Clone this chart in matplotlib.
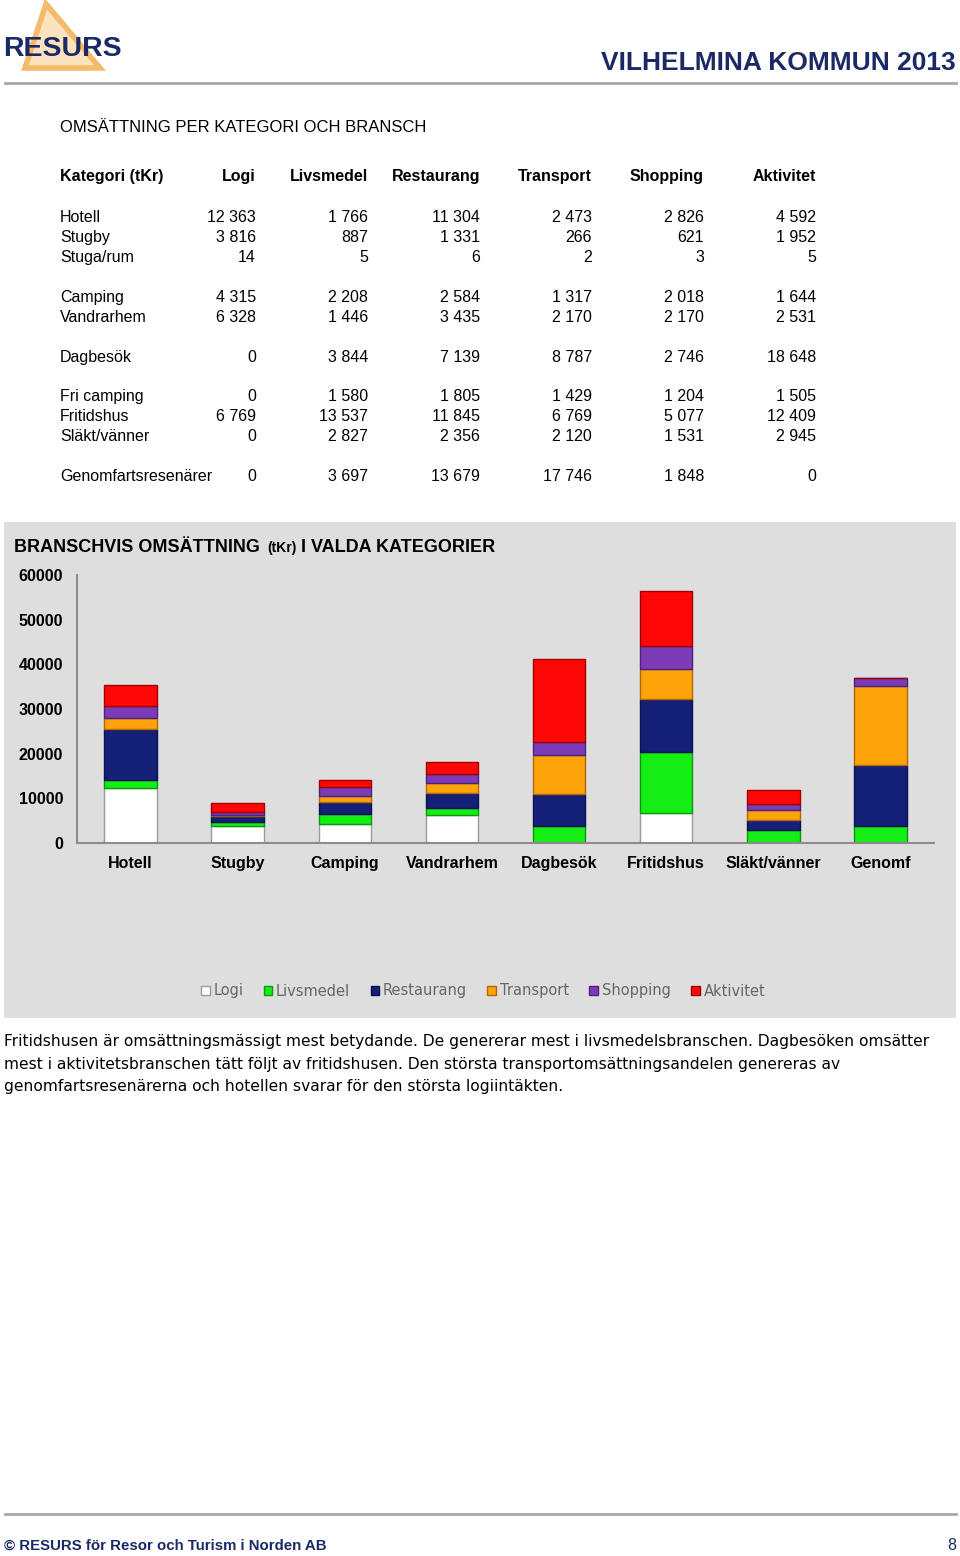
import numpy as np
import matplotlib
matplotlib.use('Agg')
import matplotlib.pyplot as plt
from matplotlib.patches import Rectangle, Polygon
from matplotlib.lines import Line2D

# data
rows = ['Hotell', 'Stugby', 'Stuga/rum', 'Camping', 'Vandrarhem', 'Dagbesök',
        'Fri camping', 'Fritidshus', 'Släkt/vänner', 'Genomfartsresenärer']
branscher = ['Logi', 'Livsmedel', 'Restaurang', 'Transport', 'Shopping', 'Aktivitet']
logi = [12363, 3816, 14, 4315, 6328, 0, 0, 6769, 0, 0]
livsmedel = [1766, 887, 5, 2208, 1446, 3844, 1580, 13537, 2827, 3697]
restaurang = [11304, 1331, 6, 2584, 3435, 7139, 1805, 11845, 2356, 13679]
transport = [2473, 266, 2, 1317, 2170, 8787, 1429, 6769, 2120, 17746]
shopping = [2826, 621, 3, 2018, 2170, 2746, 1204, 5077, 1531, 1848]
aktivitet = [4592, 1952, 5, 1644, 2531, 18648, 1505, 12409, 2945, 0]
columns = [logi, livsmedel, restaurang, transport, shopping, aktivitet]

chart_cats = ['Hotell', 'Stugby', 'Camping', 'Vandrarhem', 'Dagbesök',
              'Fritidshus', 'Släkt/vänner', 'Genomf']
chart_rows = [0, 1, 3, 4, 5, 7, 8, 9]
yticks = [0, 10000, 20000, 30000, 40000, 50000, 60000]

farger = ['#ffffff', '#14ee14', '#141f78', '#ffa30a', '#7b3cb6', '#ff0707']
kanter = ['#9a9a9a', '#0a9a0a', '#0a1050', '#b06a00', '#4e2080', '#a00000']

text = ("Fritidshusen är omsättningsmässigt mest betydande. De genererar mest i livsmedelsbranschen. Dagbesöken omsätter\n"
        "mest i aktivitetsbranschen tätt följt av fritidshusen. Den största transportomsättningsandelen genereras av\n"
        "genomfartsresenärerna och hotellen svarar för den största logiintäkten.")

smal = 'Liberation Sans'
plt.rcParams['font.family'] = ['DejaVu Sans']

W, H = 960, 1556
fig = plt.figure(figsize=(W / 100, H / 100), dpi=100)
navy = '#1b2a66'


def fx(x):
    return x / W


def fy(y):
    return 1 - y / H


# header
tri = Polygon([(fx(46), fy(4)), (fx(25), fy(68)), (fx(100), fy(68))],
              closed=True, transform=fig.transFigure,
              facecolor='#fbe3bd', edgecolor='#f3bb6a', linewidth=4)
fig.patches.append(tri)
fig.text(fx(3), fy(56), 'RESURS', family=smal, fontsize=20.5, fontweight='bold',
         color=navy, va='baseline', ha='left')
fig.text(fx(956), fy(70), 'VILHELMINA KOMMUN 2013', family=smal, fontsize=19,
         fontweight='bold', color=navy, va='baseline', ha='right')
fig.add_artist(Line2D([fx(5), fx(956)], [fy(83), fy(83)], color='#a8a8a8', lw=2))

# table
fs = 11.5
fig.text(fx(60), fy(132), 'OMSÄTTNING PER KATEGORI OCH BRANSCH', family=smal,
         fontsize=12, va='baseline')
col_x = [256, 368, 480, 592, 704, 816]
row_y = [216, 236, 256, 296, 316, 356, 395, 415, 435, 475]
fig.text(fx(60), fy(181), 'Kategori (tKr)', family=smal, fontsize=fs,
         fontweight='bold', va='baseline')
for name, cx in zip(branscher, col_x):
    fig.text(fx(cx), fy(181), name, family=smal, fontsize=fs,
             fontweight='bold', va='baseline', ha='right')
for i, (name, ry) in enumerate(zip(rows, row_y)):
    fig.text(fx(60), fy(ry + 6), name, family=smal, fontsize=fs, va='baseline')
    for col, cx in zip(columns, col_x):
        fig.text(fx(cx), fy(ry + 6), f'{col[i]:,}'.replace(',', ' '), family=smal,
                 fontsize=fs, va='baseline', ha='right')

# chart panel
fig.patches.append(Rectangle((fx(4), fy(1018)), fx(952), 496 / H,
                             transform=fig.transFigure, facecolor='#dedede',
                             edgecolor='none', zorder=-1))

ax = fig.add_axes([fx(77), fy(843), fx(934 - 77), (843 - 575) / H])
ax.set_zorder(2)
ax.set_facecolor('#dedede')
x = np.arange(len(chart_cats))
bottom = np.zeros(len(chart_cats))
handles = []
for col, namn, f, k in zip(columns, branscher, farger, kanter):
    vals = np.array([col[r] for r in chart_rows], dtype=float)
    b = ax.bar(x, vals, bottom=bottom, width=0.49, color=f, edgecolor=k,
               linewidth=1, label=namn)
    handles.append(b)
    bottom += vals

ax.set_xlim(-0.5, 7.5)
ax.set_ylim(0, 60000)
ax.set_yticks(yticks)
ax.set_yticklabels([str(v) for v in yticks], family=smal, fontsize=11.5,
                   fontweight='bold')
ax.set_xticks(x)
ax.set_xticklabels(chart_cats, family=smal, fontsize=11.5, fontweight='bold')
ax.tick_params(axis='y', length=0, pad=10)
ax.tick_params(axis='x', length=0, pad=9)
for s in ['top', 'right']:
    ax.spines[s].set_visible(False)
ax.spines['left'].set_color('#8c8c8c')
ax.spines['bottom'].set_color('#8c8c8c')
ax.spines['left'].set_linewidth(1.5)
ax.spines['bottom'].set_linewidth(1.5)

# title with smaller (tKr)
fig.canvas.draw()
r = fig.canvas.get_renderer()
t1 = fig.text(fx(14), fy(552), 'BRANSCHVIS OMSÄTTNING', family=smal, fontsize=13,
              fontweight='bold', va='baseline')
e1 = t1.get_window_extent(r)
t2 = fig.text(e1.x1 / W + fx(7), fy(552), '(tKr)', family=smal, fontsize=10,
              fontweight='bold', va='baseline')
e2 = t2.get_window_extent(r)
fig.text(e2.x1 / W + fx(5), fy(552), 'I VALDA KATEGORIER', family=smal, fontsize=13,
         fontweight='bold', va='baseline')

leg = ax.legend(handles=handles, labels=branscher, ncol=6, loc='center',
                bbox_to_anchor=(fx(483), fy(991)), bbox_transform=fig.transFigure,
                frameon=False, fontsize=10.5, handlelength=0.6, handleheight=0.6,
                handletextpad=0.25, columnspacing=1.4, labelcolor='#666666')

# paragraph
fig.text(fx(4), fy(1034), text, fontsize=11.2, va='top', ha='left',
         linespacing=1.63)

# footer
fig.add_artist(Line2D([fx(5), fx(956)], [fy(1514), fy(1514)], color='#a8a8a8', lw=2))
fig.text(fx(4), fy(1550), '© RESURS för Resor och Turism i Norden AB', family=smal,
         fontsize=10.8, fontweight='bold', color=navy, va='baseline')
fig.text(fx(956), fy(1550), '8', family=smal, fontsize=11.5, color=navy,
         va='baseline', ha='right')

fig.savefig('out.png', dpi=100)
